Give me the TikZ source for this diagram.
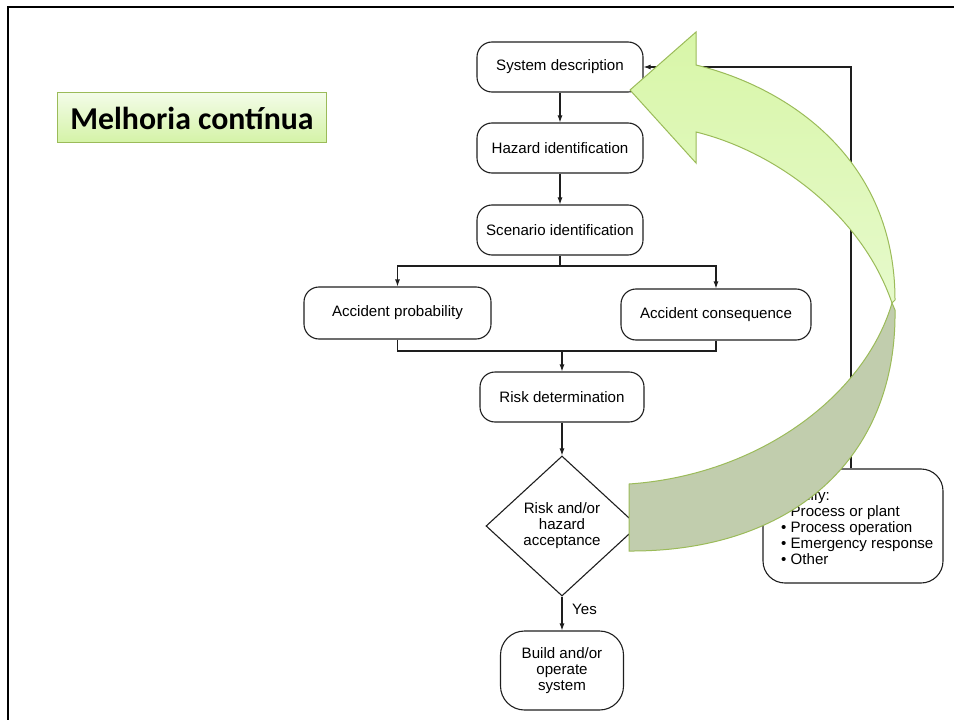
\documentclass[tikz,border=0pt]{standalone}
\usepackage{fontspec}
\setmainfont{Liberation Sans}
\newfontfamily\titlefont{Carlito}
\usetikzlibrary{arrows.meta,shapes.geometric}

\definecolor{ink}{HTML}{1E1E1E}
\definecolor{leafedge}{HTML}{9BBB59}
\definecolor{leaftop}{HTML}{D8F6A8}
\definecolor{leafbot}{HTML}{E6FACB}
\definecolor{leafback}{HTML}{C1CDAD}
\definecolor{tagtop}{HTML}{F3FCE8}
\definecolor{tagbot}{HTML}{D4F3A6}

\begin{document}
\begin{tikzpicture}[x=1bp,y=-1bp,
  txt/.style={font=\fontsize{15.1bp}{16bp}\selectfont},
  flow/.style={txt, draw=ink, line width=1.1bp, rounded corners=15bp,
    align=center, inner sep=0pt},
  link/.style={draw=ink, line width=1.1bp, -{Latex[length=7bp,width=5bp]}},
  plain/.style={draw=ink, line width=1.1bp},
]
\useasboundingbox (0,0) rectangle (954,720);

% page frame
\draw[line width=2bp] (8,720) -- (8,7) -- (954,7);

% flowchart boxes
\node[flow, minimum width=166bp, minimum height=50bp] (sys)  at (560,67)  {System description};
\node[flow, minimum width=166bp, minimum height=50bp] (haz)  at (560,148) {Hazard identification};
\node[flow, minimum width=166bp, minimum height=50bp] (scen) at (560,230) {Scenario identification};
\node[flow, minimum width=187bp, minimum height=52bp] (prob) at (397.5,313) {Accident probability};
\node[flow, minimum width=190bp, minimum height=51bp] (cons) at (716,314.5) {Accident consequence};
\node[flow, minimum width=164bp, minimum height=50bp] (risk) at (562,397) {Risk determination};
\node[txt, diamond, draw=ink, line width=1.1bp, minimum width=152bp,
      minimum height=140bp, inner sep=0pt, align=center] (acc) at (562,526)
      {Risk and/or\\hazard\\acceptance};
\node[flow, rounded corners=24bp, minimum width=123bp, minimum height=79bp] (build)
      at (562,670.5) {Build and/or\\operate\\system};
\node[flow, rounded corners=22bp, minimum width=180bp, minimum height=114bp] (mod)
      at (853,526) {};
\node[txt, anchor=west, align=left, inner sep=0pt] (modtext) at (781,527)
      {Modify:\\\textbullet\ Process or plant\\\textbullet\ Process operation\\%
       \textbullet\ Emergency response\\\textbullet\ Other};
\node[txt, anchor=west, inner sep=0pt] (yes) at (572,609) {Yes};

% connectors
\draw[link] (sys) -- (haz);
\draw[link] (haz) -- (scen);
\coordinate (split) at (560,266);
\draw[plain] (scen.south) -- (split);
\draw[link] (split) -| (prob.north);
\draw[link] (split) -| (cons.north);
\coordinate (merge) at (562,351);
\draw[plain] (prob.south) |- (merge);
\draw[plain] (cons.south) |- (merge);
\draw[link] (merge) -- (risk.north);
\draw[link] (risk) -- (acc);
\draw[link] (acc) -- (build);
\draw[link] (acc) -- (mod);
\coordinate (loop) at (851,67);
\draw[link] (mod.north -| loop) -- (loop) -- (sys.east);

% curved improvement arrow: underside band
\path[draw=leafedge, line width=1bp, fill=leafback]
  (629,484) -- (629,551)
  .. controls (790,552) and (897,460) .. (895,310)
  -- (892,303)
  .. controls (865,395) and (760,475) .. (629,484)
  -- cycle;

% curved improvement arrow: front band with head
\path[draw=leafedge, line width=1bp, top color=leaftop, bottom color=leafbot]
  (630,90) -- (696,32) -- (696,65)
  .. controls (790,88) and (895,160) .. (895,300)
  -- (892,303)
  .. controls (860,210) and (770,150) .. (696,132)
  -- (696,163) -- cycle;

% title tag
\node[draw=leafedge, line width=1bp, top color=tagtop, bottom color=tagbot,
      minimum width=268bp, minimum height=50bp, inner sep=0pt,
      font=\titlefont\bfseries\fontsize{31.8bp}{36bp}\selectfont] (tag)
      at (192,118) {Melhoria contínua};
\end{tikzpicture}
\end{document}
